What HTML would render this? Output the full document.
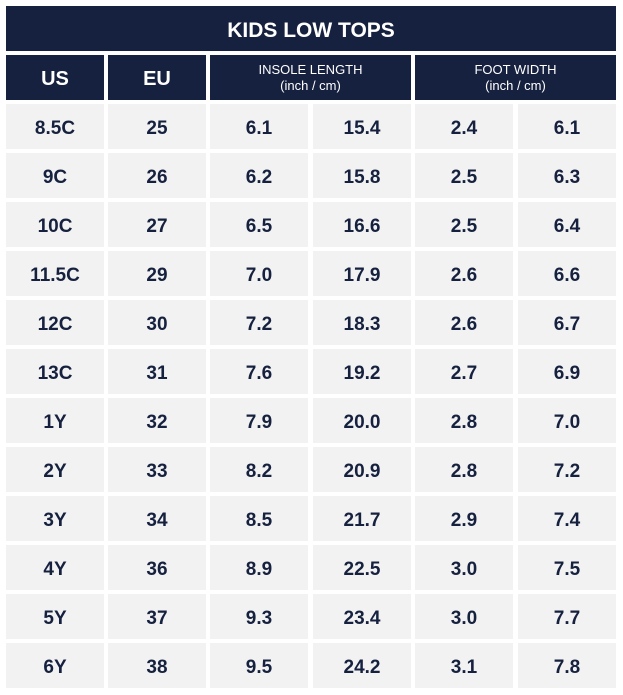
<!DOCTYPE html>
<html><head><meta charset="utf-8"><style>
body{margin:0;width:623px;height:695px;background:#fff;position:relative;overflow:hidden;font-family:"Liberation Sans",sans-serif}
.b{position:absolute;display:flex;align-items:center;justify-content:center;text-align:center;box-sizing:border-box}
.n{background:#16213f;color:#fff}
.c{background:#f2f2f2;color:#16213f;font-weight:bold;font-size:19px;padding-top:4px}
</style></head><body>
<div class="b n" style="left:6px;top:6px;width:610px;height:45px;font-weight:bold;font-size:21px;padding-top:4px">KIDS LOW TOPS</div>
<div class="b n" style="left:6px;top:55px;width:98px;height:45px;font-weight:bold;font-size:20px;padding-top:3px">US</div>
<div class="b n" style="left:108px;top:55px;width:98px;height:45px;font-weight:bold;font-size:20px;padding-top:3px">EU</div>
<div class="b n" style="left:210px;top:55px;width:201px;height:45px;font-size:13px;line-height:16px">INSOLE LENGTH<br>(inch / cm)</div>
<div class="b n" style="left:415px;top:55px;width:201px;height:45px;font-size:13px;line-height:16px">FOOT WIDTH<br>(inch / cm)</div>
<div id="rows"></div>
<script>
const us=["8.5C","9C","10C","11.5C","12C","13C","1Y","2Y","3Y","4Y","5Y","6Y"];
const eu=["25","26","27","29","30","31","32","33","34","36","37","38"];
const insIn=["6.1","6.2","6.5","7.0","7.2","7.6","7.9","8.2","8.5","8.9","9.3","9.5"];
const insCm=["15.4","15.8","16.6","17.9","18.3","19.2","20.0","20.9","21.7","22.5","23.4","24.2"];
const fwIn=["2.4","2.5","2.5","2.6","2.6","2.7","2.8","2.8","2.9","3.0","3.0","3.1"];
const fwCm=["6.1","6.3","6.4","6.6","6.7","6.9","7.0","7.2","7.4","7.5","7.7","7.8"];
const cols=[us,eu,insIn,insCm,fwIn,fwCm];
const names=["us","eu","insole-inch","insole-cm","width-inch","width-cm"];
const lefts=[6,108,210,313,415,518];
const root=document.getElementById('rows');
for(let r=0;r<us.length;r++){
  for(let c=0;c<6;c++){
    const d=document.createElement('div');
    d.className='b c';
    
    
    d.style.left=lefts[c]+'px';
    d.style.top=(104+r*49)+'px';
    d.style.width='98px';
    d.style.height='45px';
    d.textContent=cols[c][r];
    root.appendChild(d);
  }
}
</script>
</body></html>
